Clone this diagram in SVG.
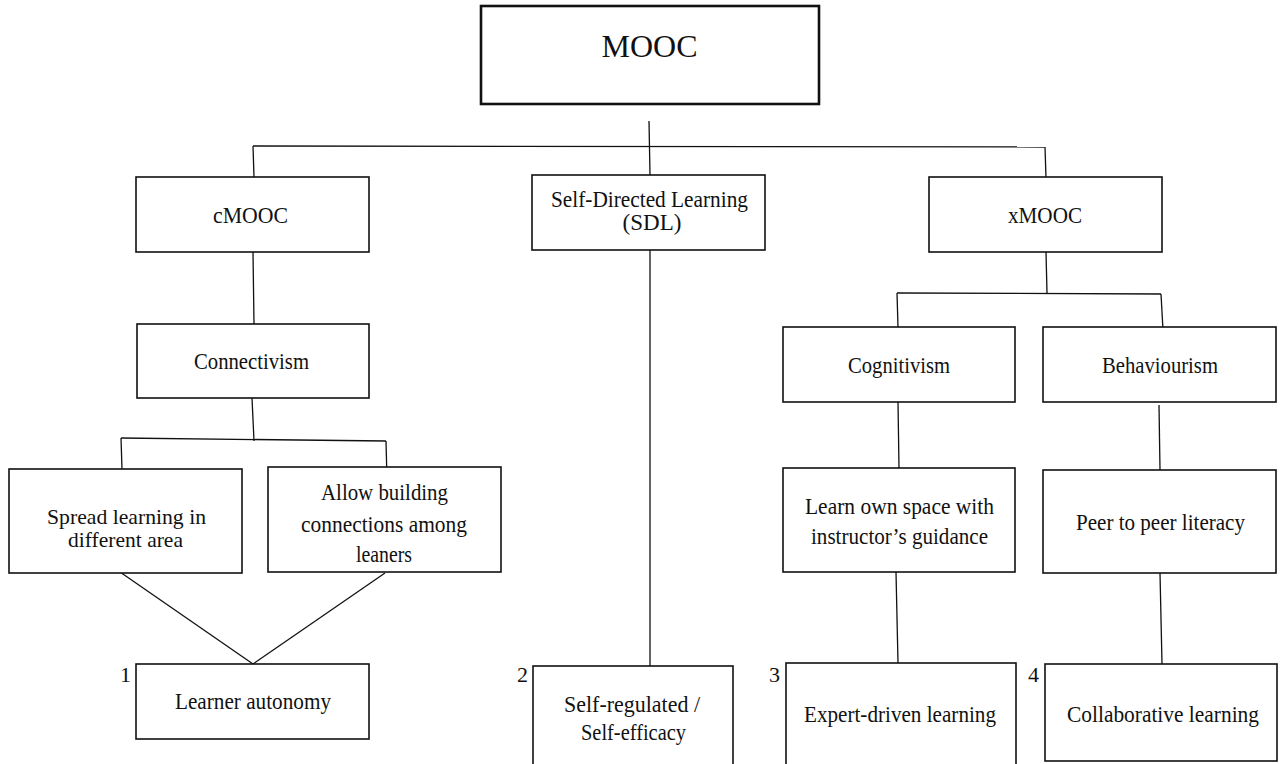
<svg xmlns="http://www.w3.org/2000/svg" width="1282" height="764" viewBox="0 0 1282 764">
<style>
rect{fill:#fff;stroke:#111;stroke-width:1.6}
rect.main{stroke-width:2.6}
.c line{stroke:#111;stroke-width:1.3}
text{font-family:"Liberation Serif","Times New Roman",serif;font-size:23px;fill:#111;text-anchor:middle}
text.n{text-anchor:start;font-size:22px}
text.s{font-size:21px}
</style>
<g id="connectors" class="c">
<line x1="649" y1="121" x2="650" y2="175"/>
<line x1="253" y1="146" x2="1045" y2="147"/>
<line x1="253" y1="146" x2="254" y2="177"/>
<line x1="1045" y1="147" x2="1046" y2="178"/>
<line x1="253" y1="252" x2="254" y2="324"/>
<line x1="252" y1="398" x2="254" y2="441"/>
<line x1="121" y1="438" x2="386" y2="441"/>
<line x1="121" y1="438" x2="122" y2="469"/>
<line x1="386" y1="441" x2="387" y2="480"/>
<line x1="120" y1="572" x2="253" y2="664"/>
<line x1="385" y1="573" x2="253" y2="664"/>
<line x1="650" y1="250" x2="650" y2="666"/>
<line x1="1046" y1="252" x2="1047" y2="293"/>
<line x1="897" y1="293" x2="1161" y2="294"/>
<line x1="897" y1="293" x2="898" y2="327"/>
<line x1="1161" y1="294" x2="1163" y2="330"/>
<line x1="898" y1="402" x2="899" y2="468"/>
<line x1="1159" y1="405" x2="1160" y2="470"/>
<line x1="896" y1="572" x2="898" y2="663"/>
<line x1="1160" y1="573" x2="1162" y2="664"/>
</g>
<g id="mooc"><rect class="main" x="481" y="6" width="338" height="98"/><text x="649.5" y="57" style="font-size:32px">MOOC</text></g>
<g id="cmooc"><rect x="136" y="177" width="233" height="75"/><text x="250.5" y="223" textLength="75" lengthAdjust="spacingAndGlyphs">cMOOC</text></g>
<g id="sdl"><rect x="532" y="175" width="233" height="75"/><text x="649.5" y="207" textLength="197" lengthAdjust="spacingAndGlyphs">Self-Directed  Learning</text><text x="652" y="230">(SDL)</text></g>
<g id="xmooc"><rect x="929" y="177" width="233" height="75"/><text x="1045" y="223" textLength="74" lengthAdjust="spacingAndGlyphs">xMOOC</text></g>
<g id="connectivism"><rect x="137" y="324" width="232" height="74"/><text x="251.5" y="369" textLength="115" lengthAdjust="spacingAndGlyphs">Connectivism</text></g>
<g id="spread"><rect x="9" y="469" width="233" height="104"/><text class="s" x="126.5" y="524" textLength="159" lengthAdjust="spacingAndGlyphs">Spread learning  in</text><text class="s" x="125.5" y="547" textLength="115" lengthAdjust="spacingAndGlyphs">different  area</text></g>
<g id="allow"><rect x="268" y="467" width="233" height="105"/><text x="384.5" y="500" textLength="127" lengthAdjust="spacingAndGlyphs">Allow  building</text><text x="384" y="532" textLength="166" lengthAdjust="spacingAndGlyphs">connections  among</text><text x="384" y="562" textLength="56" lengthAdjust="spacingAndGlyphs">leaners</text></g>
<g id="autonomy"><rect x="136" y="664" width="233" height="75"/><text x="253" y="709" textLength="156" lengthAdjust="spacingAndGlyphs">Learner  autonomy</text><text class="n" x="120" y="682">1</text></g>
<g id="selfreg"><rect x="533" y="666" width="200" height="110"/><text x="632" y="712" textLength="136" lengthAdjust="spacingAndGlyphs">Self-regulated  /</text><text x="633.5" y="740" textLength="105" lengthAdjust="spacingAndGlyphs">Self-efficacy</text><text class="n" x="517" y="682">2</text></g>
<g id="cognitivism"><rect x="783" y="327" width="232" height="75"/><text x="899" y="373" textLength="102" lengthAdjust="spacingAndGlyphs">Cognitivism</text></g>
<g id="behaviourism"><rect x="1043" y="327" width="233" height="75"/><text x="1160" y="373" textLength="116" lengthAdjust="spacingAndGlyphs">Behaviourism</text></g>
<g id="learnown"><rect x="783" y="468" width="232" height="104"/><text x="899.5" y="514" textLength="189" lengthAdjust="spacingAndGlyphs">Learn own space with</text><text x="899.5" y="544" textLength="177" lengthAdjust="spacingAndGlyphs">instructor’s  guidance</text></g>
<g id="peer"><rect x="1043" y="470" width="233" height="103"/><text x="1160.5" y="530" textLength="169" lengthAdjust="spacingAndGlyphs">Peer to peer literacy</text></g>
<g id="expert"><rect x="786" y="663" width="230" height="110"/><text x="900" y="722" textLength="192" lengthAdjust="spacingAndGlyphs">Expert-driven  learning</text><text class="n" x="769" y="682">3</text></g>
<g id="collab"><rect x="1045" y="664" width="232" height="97"/><text x="1163" y="722" textLength="192" lengthAdjust="spacingAndGlyphs">Collaborative  learning</text><text class="n" x="1028" y="682">4</text></g>
</svg>
